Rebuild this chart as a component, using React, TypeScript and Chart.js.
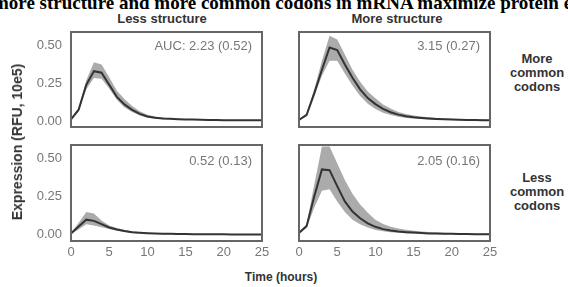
import React, { useEffect, useRef } from "react";
import { Chart, registerables } from "chart.js";

Chart.register(...registerables);

const hours = [0, 1, 2, 3, 4, 5, 6, 7, 8, 9, 10, 11, 12, 13, 14, 15, 16, 17, 18, 19, 20, 21, 22, 23, 24, 25];
const xTickValues = [0, 5, 10, 15, 20, 25];
const yTickValues = [0, 0.25, 0.5];

const columnTitles = ["Less structure", "More structure"];
const rowTitles = [["More", "common", "codons"], ["Less", "common", "codons"]];
const aucLabels = ["AUC: 2.23 (0.52)", "3.15 (0.27)", "0.52 (0.13)", "2.05 (0.16)"];

// Less structure, more common codons
const lsmcMean = [0.01, 0.075, 0.24, 0.33, 0.32, 0.24, 0.16, 0.11, 0.074, 0.047, 0.03, 0.022, 0.017, 0.014, 0.012, 0.01, 0.009, 0.008, 0.007, 0.006, 0.005, 0.005, 0.004, 0.004, 0.004, 0.004];
const lsmcUpper = [0.015, 0.085, 0.27, 0.39, 0.375, 0.29, 0.2, 0.145, 0.1, 0.065, 0.042, 0.03, 0.023, 0.018, 0.015, 0.013, 0.011, 0.01, 0.009, 0.008, 0.007, 0.007, 0.006, 0.006, 0.006, 0.006];
const lsmcLower = [0.005, 0.065, 0.21, 0.285, 0.28, 0.215, 0.14, 0.09, 0.06, 0.036, 0.022, 0.016, 0.012, 0.01, 0.009, 0.007, 0.006, 0.006, 0.005, 0.004, 0.003, 0.003, 0.002, 0.002, 0.002, 0.002];

// More structure, more common codons
const msmcMean = [0.007, 0.04, 0.185, 0.34, 0.487, 0.47, 0.375, 0.286, 0.21, 0.152, 0.112, 0.08, 0.058, 0.042, 0.032, 0.025, 0.02, 0.016, 0.013, 0.011, 0.009, 0.008, 0.007, 0.006, 0.005, 0.005];
const msmcUpper = [0.012, 0.05, 0.21, 0.4, 0.565, 0.54, 0.44, 0.34, 0.26, 0.195, 0.15, 0.11, 0.082, 0.06, 0.046, 0.036, 0.029, 0.024, 0.02, 0.017, 0.014, 0.012, 0.011, 0.01, 0.009, 0.008];
const msmcLower = [0.004, 0.03, 0.16, 0.3, 0.4, 0.4, 0.315, 0.235, 0.165, 0.115, 0.08, 0.055, 0.04, 0.028, 0.02, 0.016, 0.013, 0.01, 0.008, 0.007, 0.006, 0.005, 0.004, 0.003, 0.003, 0.003];

// Less structure, less common codons
const lslcMean = [0.01, 0.055, 0.1, 0.092, 0.071, 0.049, 0.036, 0.025, 0.018, 0.014, 0.011, 0.009, 0.008, 0.007, 0.006, 0.006, 0.005, 0.005, 0.004, 0.004, 0.004, 0.003, 0.003, 0.003, 0.003, 0.003];
const lslcUpper = [0.012, 0.08, 0.15, 0.14, 0.095, 0.062, 0.045, 0.032, 0.024, 0.018, 0.014, 0.012, 0.01, 0.009, 0.008, 0.007, 0.006, 0.006, 0.005, 0.005, 0.005, 0.004, 0.004, 0.004, 0.004, 0.004];
const lslcLower = [0.008, 0.035, 0.07, 0.062, 0.05, 0.038, 0.028, 0.019, 0.013, 0.01, 0.008, 0.006, 0.005, 0.005, 0.004, 0.004, 0.003, 0.003, 0.003, 0.002, 0.002, 0.002, 0.002, 0.002, 0.002, 0.002];

// More structure, less common codons
const mslcMean = [0.013, 0.058, 0.253, 0.43, 0.425, 0.32, 0.22, 0.153, 0.109, 0.076, 0.053, 0.038, 0.029, 0.022, 0.018, 0.015, 0.012, 0.01, 0.009, 0.008, 0.007, 0.006, 0.006, 0.005, 0.005, 0.005];
const mslcUpper = [0.016, 0.07, 0.33, 0.58, 0.58, 0.47, 0.36, 0.27, 0.2, 0.145, 0.1, 0.072, 0.054, 0.042, 0.034, 0.028, 0.023, 0.019, 0.016, 0.014, 0.012, 0.01, 0.009, 0.008, 0.008, 0.007];
const mslcLower = [0.01, 0.045, 0.18, 0.29, 0.3, 0.22, 0.15, 0.1, 0.07, 0.048, 0.033, 0.024, 0.018, 0.014, 0.011, 0.009, 0.007, 0.006, 0.005, 0.004, 0.004, 0.003, 0.003, 0.003, 0.003, 0.003];

const FONT = "'Liberation Sans', Arial, Helvetica, sans-serif";
const TICK_COLOR = "#777";
const TEXT_COLOR = "#333";

type PanelDef = {
  cx: number; cy: number; cw: number; ch: number;
  L: number; T: number; R: number; B: number;
  showX: boolean; showY: boolean;
  mean: number[]; upper: number[]; lower: number[];
};

const panels: PanelDef[] = [
  { cx: 0, cy: 26, cw: 272, ch: 105, L: 71, T: 32, R: 262, B: 127, showX: false, showY: true, mean: lsmcMean, upper: lsmcUpper, lower: lsmcLower },
  { cx: 288, cy: 26, cw: 212, ch: 105, L: 299, T: 32, R: 490, B: 127, showX: false, showY: false, mean: msmcMean, upper: msmcUpper, lower: msmcLower },
  { cx: 0, cy: 139, cw: 272, ch: 124, L: 71, T: 145, R: 262, B: 241, showX: true, showY: true, mean: lslcMean, upper: lslcUpper, lower: lslcLower },
  { cx: 288, cy: 139, cw: 212, ch: 124, L: 299, T: 145, R: 490, B: 241, showX: true, showY: false, mean: mslcMean, upper: mslcUpper, lower: mslcLower },
];

const framePlugin = {
  id: "frame",
  afterDraw(chart: any) {
    const { ctx, chartArea } = chart;
    ctx.save();
    ctx.strokeStyle = "#666";
    ctx.lineWidth = 2;
    ctx.strokeRect(chartArea.left, chartArea.top, chartArea.right - chartArea.left, chartArea.bottom - chartArea.top);
    ctx.restore();
  },
};

function PanelChart({ p }: { p: PanelDef }) {
  const ref = useRef<HTMLCanvasElement | null>(null);
  useEffect(() => {
    if (!ref.current) return;
    const pts = (arr: number[]) => hours.map((h, i) => ({ x: h, y: arr[i] }));
    const chart = new Chart(ref.current, {
      type: "line",
      data: {
        datasets: [
          { data: pts(p.mean), borderColor: "#333333", borderWidth: 2, pointRadius: 0, fill: false },
          { data: pts(p.lower), borderColor: "rgba(0,0,0,0)", borderWidth: 0, pointRadius: 0, fill: false },
          { data: pts(p.upper), borderColor: "rgba(0,0,0,0)", borderWidth: 0, pointRadius: 0, fill: "-1", backgroundColor: "#ababab" },
        ],
      },
      options: {
        responsive: false,
        animation: false,
        devicePixelRatio: 1,
        layout: {
          padding: {
            left: p.showY ? 0 : p.L - p.cx,
            top: p.T - p.cy,
            right: p.cx + p.cw - p.R,
            bottom: p.showX ? 0 : p.cy + p.ch - p.B,
          },
        },
        plugins: { legend: { display: false }, tooltip: { enabled: false }, title: { display: false } },
        scales: {
          x: {
            type: "linear",
            min: 0,
            max: 25,
            display: p.showX,
            grid: { display: false, drawTicks: false },
            border: { display: false },
            ticks: { color: TICK_COLOR, font: { size: 13, family: FONT }, padding: 4, maxRotation: 0, autoSkip: false },
            afterBuildTicks: (s: any) => { s.ticks = xTickValues.map((v) => ({ value: v })); },
            afterFit: (s: any) => {
              if (p.showX) s.height = p.cy + p.ch - p.B;
              s.paddingLeft = 0; s.paddingRight = 0; s.paddingTop = 0; s.paddingBottom = 0;
            },
          },
          y: {
            type: "linear",
            min: -0.04,
            max: 0.59,
            display: p.showY,
            grid: { display: false, drawTicks: false },
            border: { display: false },
            ticks: { color: TICK_COLOR, font: { size: 13, family: FONT }, padding: 9, callback: (v: any) => Number(v).toFixed(2) },
            afterBuildTicks: (s: any) => { s.ticks = yTickValues.map((v) => ({ value: v })); },
            afterFit: (s: any) => {
              if (p.showY) s.width = p.L - p.cx;
              s.paddingLeft = 0; s.paddingRight = 0; s.paddingTop = 0; s.paddingBottom = 0;
            },
          },
        },
      } as any,
      plugins: [framePlugin],
    });
    return () => chart.destroy();
  }, [p]);
  return (
    <canvas
      ref={ref}
      width={p.cw}
      height={p.ch}
      style={{ position: "absolute", left: p.cx, top: p.cy, width: p.cw, height: p.ch }}
    />
  );
}

const abs = (s: React.CSSProperties): React.CSSProperties => ({ position: "absolute", whiteSpace: "nowrap", lineHeight: 1, ...s });

export default function App() {
  const aucPos = [
    { right: 568 - 252, top: 45 },
    { right: 568 - 480, top: 45 },
    { right: 568 - 252, top: 160 },
    { right: 568 - 480, top: 160 },
  ];
  return (
    <div style={{ position: "fixed", left: 0, top: 0, width: 568, height: 287, overflow: "hidden", background: "#fff", fontFamily: FONT }}>
      <div style={abs({ left: -7, top: -7, fontFamily: "'Liberation Serif', 'Times New Roman', serif", fontWeight: "bold", fontSize: 19, color: "#000" })}>
        more structure and more common codons in mRNA maximize protein expression
      </div>
      {columnTitles.map((t, i) => (
        <div key={t} style={abs({ left: i === 0 ? 162 : 397, top: 18, transform: "translate(-50%,-50%)", fontWeight: "bold", fontSize: 13, color: TEXT_COLOR })}>{t}</div>
      ))}
      {panels.map((p, i) => (
        <PanelChart key={i} p={p} />
      ))}
      {aucLabels.map((t, i) => (
        <div key={t} style={abs({ right: aucPos[i].right, top: aucPos[i].top, transform: "translateY(-50%)", fontSize: 13, color: TICK_COLOR })}>{t}</div>
      ))}
      {rowTitles.map((lines, i) => (
        <div key={i} style={abs({ left: 537, top: i === 0 ? 73 : 192, transform: "translate(-50%,-50%)", fontWeight: "bold", fontSize: 13, color: TEXT_COLOR, textAlign: "center", lineHeight: "14px" })}>
          {lines.map((l) => (<div key={l}>{l}</div>))}
        </div>
      ))}
      <div style={abs({ left: 17, top: 142, transform: "translate(-50%,-50%) rotate(-90deg)", fontWeight: "bold", fontSize: 14, color: TEXT_COLOR })}>
        Expression (RFU, 10e5)
      </div>
      <div style={abs({ left: 281, top: 277, transform: "translate(-50%,-50%)", fontWeight: "bold", fontSize: 12, color: TEXT_COLOR })}>
        Time (hours)
      </div>
    </div>
  );
}
